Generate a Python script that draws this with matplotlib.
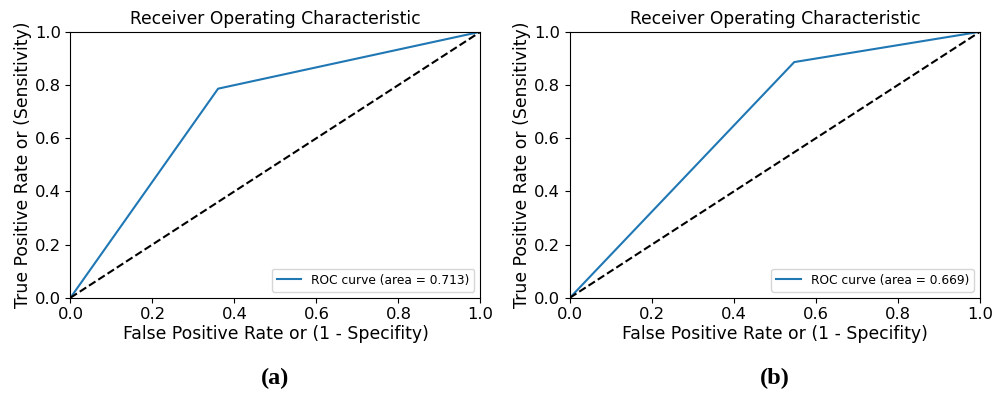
import matplotlib
matplotlib.use("Agg")
import matplotlib.pyplot as plt

fpr_a = [0.0, 0.36, 1.0]
tpr_a = [0.0, 0.786, 1.0]
auc_a = 0.713
fpr_b = [0.0, 0.547, 1.0]
tpr_b = [0.0, 0.886, 1.0]
auc_b = 0.669
captions = ["(a)", "(b)"]

fig = plt.figure(figsize=(9.94, 3.94), dpi=100)
axes = [fig.add_axes([0.0709, 0.2444, 0.4125, 0.675]),
        fig.add_axes([0.5734, 0.2444, 0.4125, 0.675])]

for ax, fpr, tpr, auc, cap in zip(axes, [fpr_a, fpr_b], [tpr_a, tpr_b], [auc_a, auc_b], captions):
    ax.plot(fpr, tpr, color="#1f77b4", lw=1.5, label="ROC curve (area = %0.3f)" % auc)
    ax.plot([0, 1], [0, 1], color="black", lw=1.5, ls="--")
    ax.set_xlim(0, 1)
    ax.set_ylim(0, 1)
    ax.set_title("Receiver Operating Characteristic", fontsize=12.3, pad=5.5)
    ax.set_xlabel("False Positive Rate or (1 - Specifity)", fontsize=12.4, labelpad=2)
    ax.set_ylabel("True Positive Rate or (Sensitivity)", fontsize=12.4, labelpad=2)
    ax.tick_params(labelsize=11.8)
    ax.legend(loc="lower right", fontsize=8.8)
    pos = ax.get_position()
    fig.text(pos.x0 + pos.width / 2, 0.066, cap, ha="center", va="top",
             fontsize=17.5, fontweight="bold", family="Liberation Serif")

fig.savefig("out.png", dpi=100)
